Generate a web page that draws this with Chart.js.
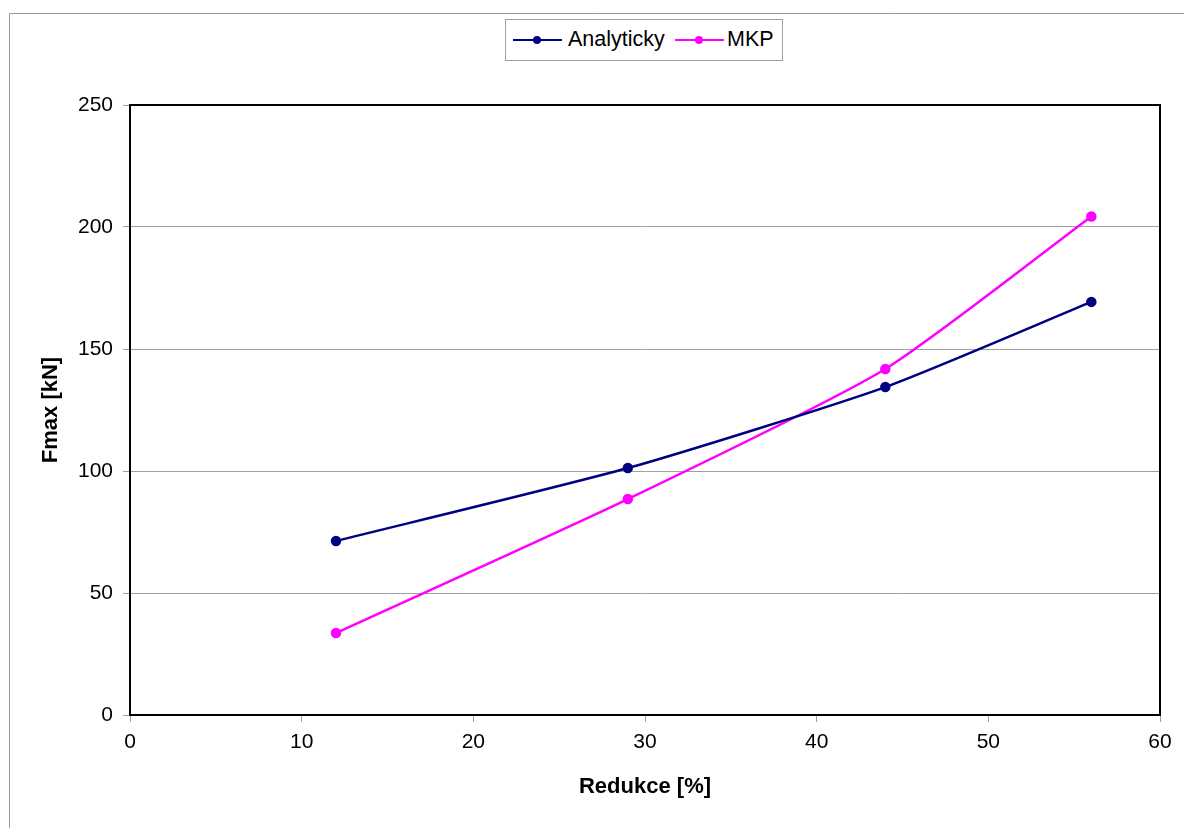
<!DOCTYPE html>
<html>
<head>
<meta charset="utf-8">
<script src="https://cdn.jsdelivr.net/npm/chart.js@4/dist/chart.umd.min.js"></script>
<style>
  html, body { margin: 0; padding: 0; background: #fff; }
  #wrap { position: relative; width: 1184px; height: 828px; }
  #legend {
    position: absolute; left: 505px; top: 19px; width: 278px; height: 42px;
    border: 1px solid #a0a0a0; box-sizing: border-box; background: #fff;
    font-family: "Liberation Sans", Arial, sans-serif; font-size: 21.5px; color: #000;
  }
  .item { position: absolute; top: 0; height: 41px; line-height: 41px; }
  .ln { position: absolute; top: 19px; width: 49px; height: 2px; }
  .dot { position: absolute; top: 16px; width: 8px; height: 8px; border-radius: 50%; }
  .lbl { position: absolute; top: -1px; white-space: nowrap; }
</style>
</head>
<body>
<div id="wrap">
  <canvas id="c" width="1184" height="828"></canvas>
  <div id="legend"></div>
</div>
<script>
const seriesNames = ["Analyticky", "MKP"];
const reductionPct = [12, 29, 44, 56];
const analytickyVals = [71.3, 101.2, 134.4, 169.3];
const mkpVals = [33.6, 88.5, 141.8, 204.3];
const xTicks = [0, 10, 20, 30, 40, 50, 60];
const yTicks = [0, 50, 100, 150, 200, 250];
const xTitle = "Redukce [%]";
const yTitle = "Fmax [kN]";
const colors = ["#000080", "#FF00FF"];

const seriesVals = [analytickyVals, mkpVals];

// HTML legend
const legend = document.getElementById('legend');
const legendPos = [{line: 7, text: 62}, {line: 169, text: 221}];
seriesNames.forEach((name, i) => {
  const p = legendPos[i];
  legend.insertAdjacentHTML('beforeend',
    `<div class="ln" style="left:${p.line}px;background:${colors[i]}"></div>` +
    `<div class="dot" style="left:${p.line + 20}px;background:${colors[i]}"></div>` +
    `<div class="item lbl" style="left:${p.text}px">${name}</div>`);
});

const frame = {
  id: 'frame',
  beforeDraw(chart) {
    const ctx = chart.ctx;
    ctx.save();
    ctx.strokeStyle = '#9a9a9a';
    ctx.lineWidth = 1;
    ctx.beginPath();
    ctx.moveTo(9.5, 828);
    ctx.lineTo(9.5, 13.5);
    ctx.lineTo(1184, 13.5);
    ctx.stroke();
    ctx.restore();
  },
  afterDatasetsDraw(chart) {
    const a = chart.chartArea;
    const ctx = chart.ctx;
    ctx.save();
    ctx.strokeStyle = '#000';
    ctx.lineWidth = 2;
    ctx.strokeRect(a.left, a.top, a.right - a.left, a.bottom - a.top);
    ctx.restore();
  }
};

const font = "'Liberation Sans', Arial, sans-serif";

new Chart(document.getElementById('c'), {
  type: 'line',
  data: {
    datasets: seriesNames.map((name, i) => ({
      label: name,
      data: reductionPct.map((x, j) => ({x: x, y: seriesVals[i][j]})),
      borderColor: colors[i],
      backgroundColor: colors[i],
      borderWidth: 2.5,
      pointRadius: 4,
      pointHoverRadius: 4,
      tension: 0.2,
      fill: false,
      clip: false
    }))
  },
  options: {
    responsive: false,
    animation: false,
    events: [],
    layout: { padding: { left: 10, right: 24, top: 105, bottom: 0 } },
    plugins: { legend: { display: false }, tooltip: { enabled: false } },
    scales: {
      x: {
        type: 'linear',
        min: 0, max: 60,
        afterBuildTicks(s) { s.ticks = xTicks.map(v => ({value: v})); },
        afterFit(s) { s.height = 113; },
        grid: { drawOnChartArea: false, color: '#a0a0a0', tickColor: '#a0a0a0', tickLength: 7 },
        border: { color: '#000', width: 2 },
        ticks: { color: '#000', font: { family: font, size: 21 }, padding: 8, maxRotation: 0 },
        title: { display: true, text: xTitle, color: '#000',
          font: { family: font, size: 22, weight: 'bold' }, padding: { top: 0, bottom: 28 } }
      },
      y: {
        min: 0, max: 250,
        afterBuildTicks(s) { s.ticks = yTicks.map(v => ({value: v})); },
        afterFit(s) { s.width = 120; },
        grid: { color: '#a0a0a0', tickColor: '#a0a0a0', tickLength: 7, lineWidth: 1 },
        border: { color: '#000', width: 2 },
        ticks: { color: '#000', font: { family: font, size: 21 }, padding: 10 },
        title: { display: true, text: yTitle, color: '#000',
          font: { family: font, size: 22, weight: 'bold' }, padding: { top: 28, bottom: 0 } }
      }
    }
  },
  plugins: [frame]
});
</script>
</body>
</html>
